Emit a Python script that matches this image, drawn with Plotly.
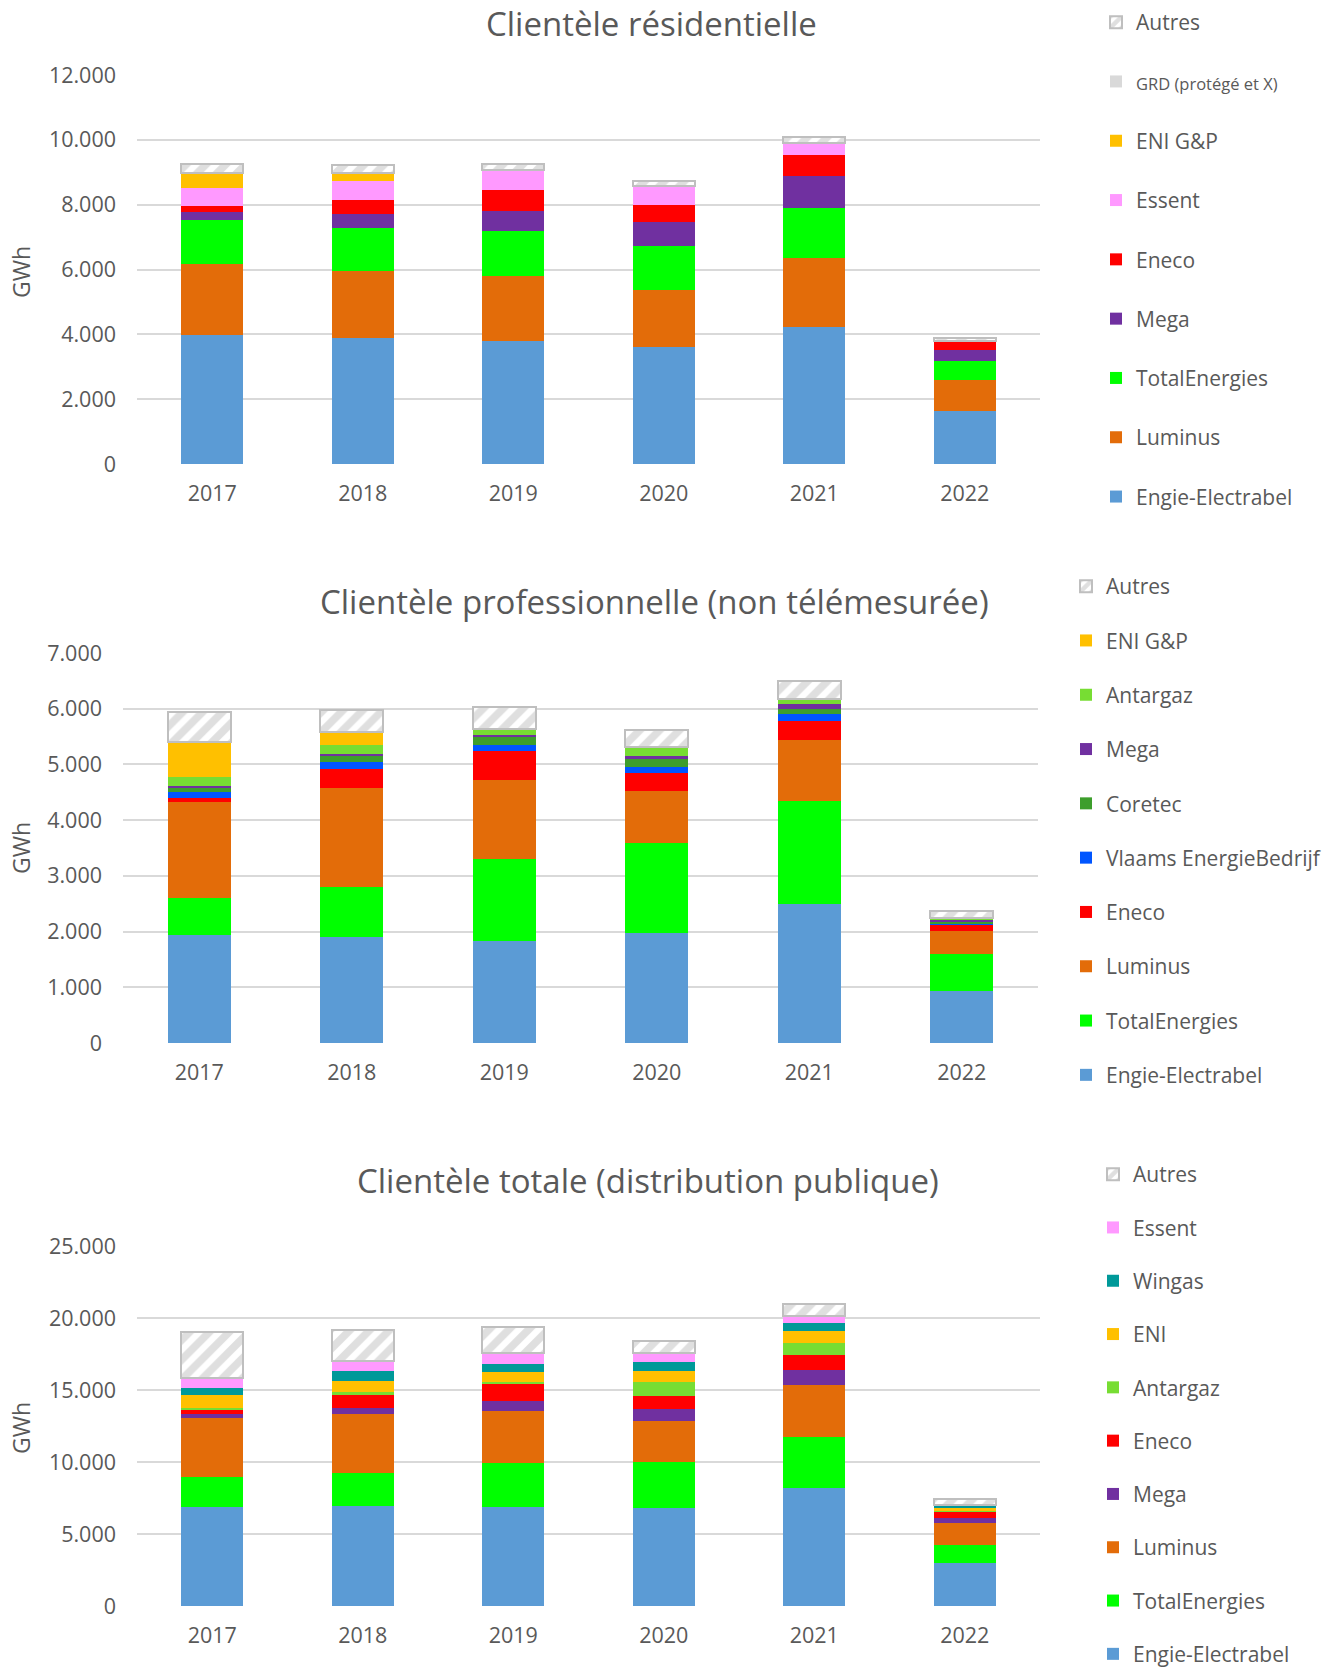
import plotly.graph_objects as go

W, H = 1334, 1670
years = ["2017", "2018", "2019", "2020", "2021", "2022"]

# --- Clientèle résidentielle (GWh), bottom-up stacking order
res_engie = [3990, 3890, 3800, 3610, 4220, 1620]
res_luminus = [2190, 2070, 1990, 1770, 2140, 980]
res_total = [1340, 1335, 1410, 1340, 1540, 575]
res_mega = [250, 430, 615, 750, 995, 330]
res_eneco = [185, 420, 635, 535, 635, 290]
res_essent = [565, 575, 615, 575, 380, 0]
res_eni = [460, 250, 0, 0, 0, 0]
res_grd = [0, 0, 0, 0, 0, 0]
res_autres = [275, 245, 185, 135, 175, 90]

# --- Clientèle professionnelle (non télémesurée)
pro_engie = [1930, 1900, 1830, 1970, 2500, 930]
pro_total = [680, 900, 1475, 1620, 1840, 670]
pro_luminus = [1720, 1770, 1420, 940, 1090, 415]
pro_eneco = [70, 355, 510, 320, 345, 95]
pro_veb = [110, 110, 110, 105, 125, 40]
pro_coretec = [70, 110, 140, 145, 95, 30]
pro_mega = [40, 40, 50, 55, 95, 30]
pro_antargaz = [155, 155, 95, 155, 90, 35]
pro_eni = [625, 245, 0, 0, 0, 0]
pro_autres = [535, 395, 400, 300, 315, 125]

# --- Clientèle totale (distribution publique)
tot_engie = [6875, 6970, 6850, 6805, 8170, 2985]
tot_total = [2060, 2245, 3055, 3195, 3590, 1275]
tot_luminus = [4095, 4095, 3610, 2870, 3565, 1505]
tot_mega = [300, 465, 695, 785, 1090, 370]
tot_eneco = [255, 855, 1225, 905, 995, 395]
tot_antargaz = [185, 230, 140, 970, 855, 70]
tot_eni = [855, 740, 650, 810, 835, 185]
tot_wingas = [530, 720, 600, 600, 580, 160]
tot_essent = [670, 670, 715, 650, 465, 45]
tot_autres = [3195, 2175, 1850, 810, 810, 465]

C = {
    "Engie-Electrabel": "#5B9BD5",
    "Luminus": "#E36C09",
    "TotalEnergies": "#00FF00",
    "Mega": "#7030A0",
    "Eneco": "#FF0000",
    "Essent": "#FF99FF",
    "ENI G&P": "#FFC000",
    "ENI": "#FFC000",
    "GRD": "#D9D9D9",
    "Antargaz": "#77DD33",
    "Coretec": "#3D9E2C",
    "Vlaams EnergieBedrijf": "#0055FF",
    "Wingas": "#009999",
}
TXT = "#595959"
FONT = "Open Sans"
GRID = "#D9D9D9"

fig = go.Figure()
rank = {"n": 1000}


def add(name, vals, color, k, legend, label=None):
    xa = "x" if k == 1 else f"x{k}"
    ya = "y" if k == 1 else f"y{k}"
    kw = dict(marker=dict(color=color, line=dict(width=0)))
    if name == "Autres":
        kw = dict(marker=dict(color="white",
                              line=dict(color="#BFBFBF", width=2),
                              pattern=dict(shape="/", fgcolor="#BFBFBF",
                                           bgcolor="white", size=14,
                                           solidity=0.55)))
    rank["n"] -= 1
    fig.add_trace(go.Bar(x=years, y=vals, name=label or name, xaxis=xa, yaxis=ya,
                         legend=legend, legendgroup=f"{legend}_{name}",
                         legendrank=rank["n"], hoverinfo="skip", **kw))


# chart 1
add("Engie-Electrabel", res_engie, C["Engie-Electrabel"], 1, "legend")
add("Luminus", res_luminus, C["Luminus"], 1, "legend")
add("TotalEnergies", res_total, C["TotalEnergies"], 1, "legend")
add("Mega", res_mega, C["Mega"], 1, "legend")
add("Eneco", res_eneco, C["Eneco"], 1, "legend")
add("Essent", res_essent, C["Essent"], 1, "legend")
add("ENI G&P", res_eni, C["ENI G&P"], 1, "legend")
add("GRD", res_grd, C["GRD"], 1, "legend",
    label='<span style="font-size:16.5px">GRD (protégé et X)</span>')
add("Autres", res_autres, None, 1, "legend")

# chart 2
add("Engie-Electrabel", pro_engie, C["Engie-Electrabel"], 2, "legend2")
add("TotalEnergies", pro_total, C["TotalEnergies"], 2, "legend2")
add("Luminus", pro_luminus, C["Luminus"], 2, "legend2")
add("Eneco", pro_eneco, C["Eneco"], 2, "legend2")
add("Vlaams EnergieBedrijf", pro_veb, C["Vlaams EnergieBedrijf"], 2, "legend2")
add("Coretec", pro_coretec, C["Coretec"], 2, "legend2")
add("Mega", pro_mega, C["Mega"], 2, "legend2")
add("Antargaz", pro_antargaz, C["Antargaz"], 2, "legend2")
add("ENI G&P", pro_eni, C["ENI G&P"], 2, "legend2")
add("Autres", pro_autres, None, 2, "legend2")

# chart 3
add("Engie-Electrabel", tot_engie, C["Engie-Electrabel"], 3, "legend3")
add("TotalEnergies", tot_total, C["TotalEnergies"], 3, "legend3")
add("Luminus", tot_luminus, C["Luminus"], 3, "legend3")
add("Mega", tot_mega, C["Mega"], 3, "legend3")
add("Eneco", tot_eneco, C["Eneco"], 3, "legend3")
add("Antargaz", tot_antargaz, C["Antargaz"], 3, "legend3")
add("ENI", tot_eni, C["ENI"], 3, "legend3")
add("Wingas", tot_wingas, C["Wingas"], 3, "legend3")
add("Essent", tot_essent, C["Essent"], 3, "legend3")
add("Autres", tot_autres, None, 3, "legend3")


def px_x(p):
    return p / W


def px_y(p):
    return 1 - p / H


axfont = dict(family=FONT, size=21.5, color=TXT)
xcommon = dict(showgrid=False, showline=False, zeroline=False, ticks="",
               tickfont=axfont, ticklabelstandoff=14, fixedrange=True)
ycommon = dict(showgrid=True, gridcolor=GRID, gridwidth=2, zeroline=False,
               showline=False, ticks="", tickformat=",d", tickfont=axfont,
               ticklabelstandoff=20, fixedrange=True)

layout = dict(
    width=W, height=H, margin=dict(l=0, r=0, t=0, b=0, autoexpand=False),
    paper_bgcolor="white", plot_bgcolor="white",
    barmode="stack", bargap=0.59, separators=",.",
    font=dict(family=FONT, color=TXT),
    xaxis=dict(domain=[px_x(137), px_x(1040)], anchor="y", **xcommon),
    yaxis=dict(domain=[px_y(464), px_y(75)], range=[0, 12000], dtick=2000,
               anchor="x", **ycommon),
    xaxis2=dict(domain=[px_x(123), px_x(1038)], anchor="y2", **xcommon),
    yaxis2=dict(domain=[px_y(1043), px_y(653)], range=[0, 7000], dtick=1000,
                anchor="x2", **ycommon),
    xaxis3=dict(domain=[px_x(137), px_x(1040)], anchor="y3", **xcommon),
    yaxis3=dict(domain=[px_y(1606), px_y(1246)], range=[0, 25000], dtick=5000,
                anchor="x3", **ycommon),
)

legfont = dict(family=FONT, size=21, color=TXT)
layout["legend"] = dict(x=px_x(1096), y=px_y(2), xanchor="left", yanchor="top",
                        traceorder="grouped", tracegroupgap=29, maxheight=700,
                        font=legfont, bgcolor="rgba(0,0,0,0)")
layout["legend2"] = dict(x=px_x(1066), y=px_y(566), xanchor="left", yanchor="top",
                         traceorder="grouped", tracegroupgap=24, maxheight=700,
                         font=legfont, bgcolor="rgba(0,0,0,0)")
layout["legend3"] = dict(x=px_x(1093), y=px_y(1154), xanchor="left", yanchor="top",
                         traceorder="grouped", tracegroupgap=23, maxheight=700,
                         font=legfont, bgcolor="rgba(0,0,0,0)")

fig.update_layout(**layout)

titles = [("Clientèle résidentielle", 651, 23),
          ("Clientèle professionnelle (non télémesurée)", 654, 601),
          ("Clientèle totale (distribution publique)", 648, 1180)]
for t, xx, yy in titles:
    fig.add_annotation(text=t, x=px_x(xx), y=px_y(yy), xref="paper", yref="paper",
                       xanchor="center", yanchor="middle", showarrow=False,
                       font=dict(family=FONT, size=33, color=TXT))

for yy in [272, 848, 1428]:
    fig.add_annotation(text="GWh", x=px_x(21), y=px_y(yy), xref="paper", yref="paper",
                       xanchor="center", yanchor="middle", showarrow=False, textangle=-90,
                       font=dict(family=FONT, size=23, color=TXT))

fig.write_html("out.html", config={"displayModeBar": False},
               post_script="document.body.style.margin='0';")
